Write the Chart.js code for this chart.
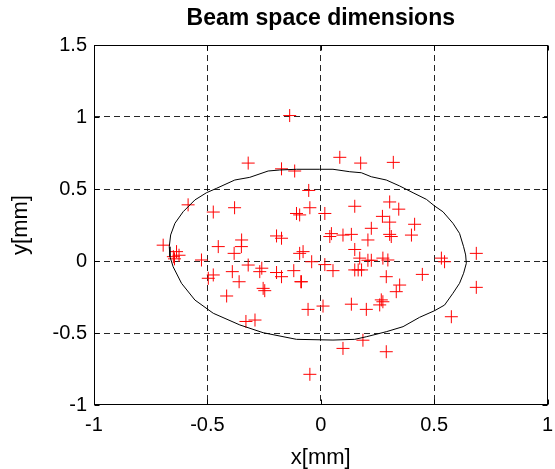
<!DOCTYPE html>
<html>
<head>
<meta charset="utf-8">
<script src="https://cdn.jsdelivr.net/npm/chart.js@4"></script>
<style>
  html, body { margin: 0; padding: 0; background: #fff; }
  #wrap { width: 555px; height: 469px; position: relative; }
</style>
</head>
<body>
<div id="wrap"><canvas id="beamChart"></canvas></div>
<script>
// beam particle positions (mm)
const beamX = [-0.137, -0.32, -0.173, -0.115, 0.084, 0.176, 0.32, -0.053, -0.585, -0.474,
  -0.38, -0.048, -0.093, -0.107, 0.018, 0.15, 0.304, 0.344, 0.272, 0.304,
  0.414, 0.223, 0.047, 0.04, 0.098, 0.135, 0.208, 0.304, 0.311, 0.40,
  -0.195, -0.173, -0.349, -0.452, -0.35, -0.382, -0.695, -0.636, -0.65, -0.625,
  -0.645, -0.526, -0.093, -0.078, -0.04, 0.15, 0.172, 0.208, 0.223, 0.274,
  0.296, 0.532, 0.546, 0.686, 0.018, 0.054, 0.15, 0.165, 0.18, -0.085,
  0.289, 0.348, 0.333, 0.448, 0.686, 0.576, -0.056, 0.01, 0.135, 0.201,
  0.267, 0.26, 0.274, 0.186, 0.098, 0.289, -0.048, -0.474, -0.496, -0.39,
  -0.32, -0.269, -0.26, -0.36, -0.195, -0.173, -0.119, -0.088, -0.254, -0.247,
  -0.415, -0.33, -0.29];
const beamY = [1.01, 0.68, 0.64, 0.625, 0.72, 0.68, 0.685, 0.49, 0.39, 0.34,
  0.37, 0.37, 0.32, 0.33, 0.33, 0.38, 0.41, 0.36, 0.31, 0.27,
  0.255, 0.227, 0.19, 0.17, 0.18, 0.185, 0.146, 0.185, 0.17, 0.18,
  0.174, 0.158, 0.146, 0.10, 0.10, 0.053, 0.11, 0.065, 0.03, 0.04,
  0.015, 0.007, 0.053, 0.065, -0.005, 0.08, 0.02, 0.005, 0.005, 0.02,
  0.007, 0.02, -0.005, 0.053, -0.025, -0.067, -0.062, -0.062, -0.062, -0.144,
  -0.109, -0.167, -0.213, -0.093, -0.183, -0.387, -0.336, -0.313, -0.30, -0.336,
  -0.27, -0.305, -0.283, -0.55, -0.607, -0.63, -0.787, -0.097, -0.12, -0.074,
  -0.028, -0.074, -0.05, -0.144, -0.08, -0.109, -0.067, -0.144, -0.19, -0.206,
  -0.243, -0.42, -0.41];

// envelope contour
const envX = [0.642, 0.639, 0.630, 0.612, 0.583, 0.539, 0.502, 0.466, 0.407, 0.348,
  0.289, 0.223, 0.179, 0.128, 0.054, -0.004, -0.107, -0.181, -0.232, -0.313,
  -0.379, -0.459, -0.504, -0.555, -0.607, -0.643, -0.662, -0.668, -0.665, -0.651,
  -0.614, -0.555, -0.474, -0.357, -0.254, -0.107, 0.054, 0.150, 0.201, 0.289,
  0.363, 0.436, 0.502, 0.546, 0.583, 0.612, 0.630, 0.642];
const envY = [-0.016, 0.042, 0.099, 0.192, 0.262, 0.342, 0.382, 0.428, 0.474, 0.521,
  0.5625, 0.585, 0.613, 0.620, 0.637, 0.637, 0.637, 0.632, 0.625, 0.581,
  0.5625, 0.505, 0.474, 0.424, 0.342, 0.262, 0.181, 0.099, 0.030, -0.040,
  -0.155, -0.271, -0.363, -0.444, -0.498, -0.544, -0.549, -0.544, -0.526, -0.491,
  -0.456, -0.391, -0.345, -0.306, -0.224, -0.155, -0.085, -0.016];

const xTicks = [-1, -0.5, 0, 0.5, 1];
const yTicks = [-1, -0.5, 0, 0.5, 1, 1.5];

const toPoints = (xs, ys) => xs.map((x, i) => ({ x: x, y: ys[i] }));

// matlab style box with inward ticks
const framePlugin = {
    id: 'frame',
    afterDatasetsDraw(chart) {
        const { ctx, chartArea: a, scales } = chart;
        const l = Math.round(a.left) + 0.5, r = Math.round(a.right) - 0.5;
        const t = Math.round(a.top) + 0.5, b = Math.round(a.bottom) - 0.5;
        ctx.save();
        ctx.strokeStyle = '#000';
        ctx.lineWidth = 1;
        ctx.setLineDash([]);
        ctx.strokeRect(l, t, r - l, b - t);
        ctx.beginPath();
        xTicks.forEach(v => {
            const px = Math.round(scales.x.getPixelForValue(v)) + 0.5;
            ctx.moveTo(px, b); ctx.lineTo(px, b - 5);
            ctx.moveTo(px, t); ctx.lineTo(px, t + 5);
        });
        yTicks.forEach(v => {
            const py = Math.round(scales.y.getPixelForValue(v)) + 0.5;
            ctx.moveTo(l, py); ctx.lineTo(l + 5, py);
            ctx.moveTo(r, py); ctx.lineTo(r - 5, py);
        });
        ctx.stroke();
        ctx.restore();
    }
};

const edgeHidden = (min, max) => c =>
    (c.tick && (c.tick.value === min || c.tick.value === max)) ? 'rgba(0,0,0,0)' : 'rgba(0,0,0,0.85)';

const tickFont = { family: 'Liberation Sans, Arial', size: 20 };
const axisFont = { family: 'Liberation Sans, Arial', size: 22, lineHeight: 1 };

new Chart(document.getElementById('beamChart'), {
    type: 'scatter',
    data: {
        datasets: [{
            data: toPoints(envX, envY),
            showLine: true,
            borderColor: '#000',
            borderWidth: 1,
            pointRadius: 0,
            tension: 0,
            fill: false
        }, {
            data: toPoints(beamX, beamY),
            pointStyle: 'cross',
            pointRadius: 6.5,
            borderColor: '#ff0000',
            backgroundColor: '#ff0000',
            pointBorderWidth: 1,
            showLine: false
        }]
    },
    options: {
        responsive: true,
        maintainAspectRatio: false,
        animation: false,
        layout: { padding: { left: 0, right: 0, top: 0, bottom: 0 } },
        plugins: {
            legend: { display: false },
            tooltip: { enabled: false },
            title: {
                display: true,
                fullSize: false,
                text: 'Beam space dimensions',
                color: '#000',
                font: { family: 'Liberation Sans, Arial', size: 23, weight: 'bold' },
                padding: { top: 5, bottom: 12.4 }
            }
        },
        scales: {
            x: {
                type: 'linear',
                min: -1,
                max: 1,
                afterBuildTicks: s => { s.ticks = xTicks.map(v => ({ value: v })); },
                afterFit: s => { s.height = 64; s.paddingRight = 7; s.paddingLeft = 0; },
                ticks: {
                    color: '#000',
                    padding: 8,
                    font: tickFont,
                    callback: v => String(v)
                },
                grid: { color: edgeHidden(-1, 1), lineWidth: 1, drawTicks: false },
                border: { display: false, dash: [6, 4] },
                title: {
                    display: true,
                    text: 'x[mm]',
                    color: '#000',
                    padding: 0,
                    font: axisFont
                }
            },
            y: {
                type: 'linear',
                min: -1,
                max: 1.5,
                afterBuildTicks: s => { s.ticks = yTicks.map(v => ({ value: v })); },
                afterFit: s => { s.width = 94; },
                ticks: {
                    color: '#000',
                    padding: 7,
                    font: tickFont,
                    callback: v => String(v)
                },
                grid: { color: edgeHidden(-1, 1.5), lineWidth: 1, drawTicks: false },
                border: { display: false, dash: [6, 4] },
                title: {
                    display: true,
                    text: 'y[mm]',
                    color: '#000',
                    padding: 10,
                    font: axisFont
                }
            }
        }
    },
    plugins: [framePlugin]
});
</script>
</body>
</html>
